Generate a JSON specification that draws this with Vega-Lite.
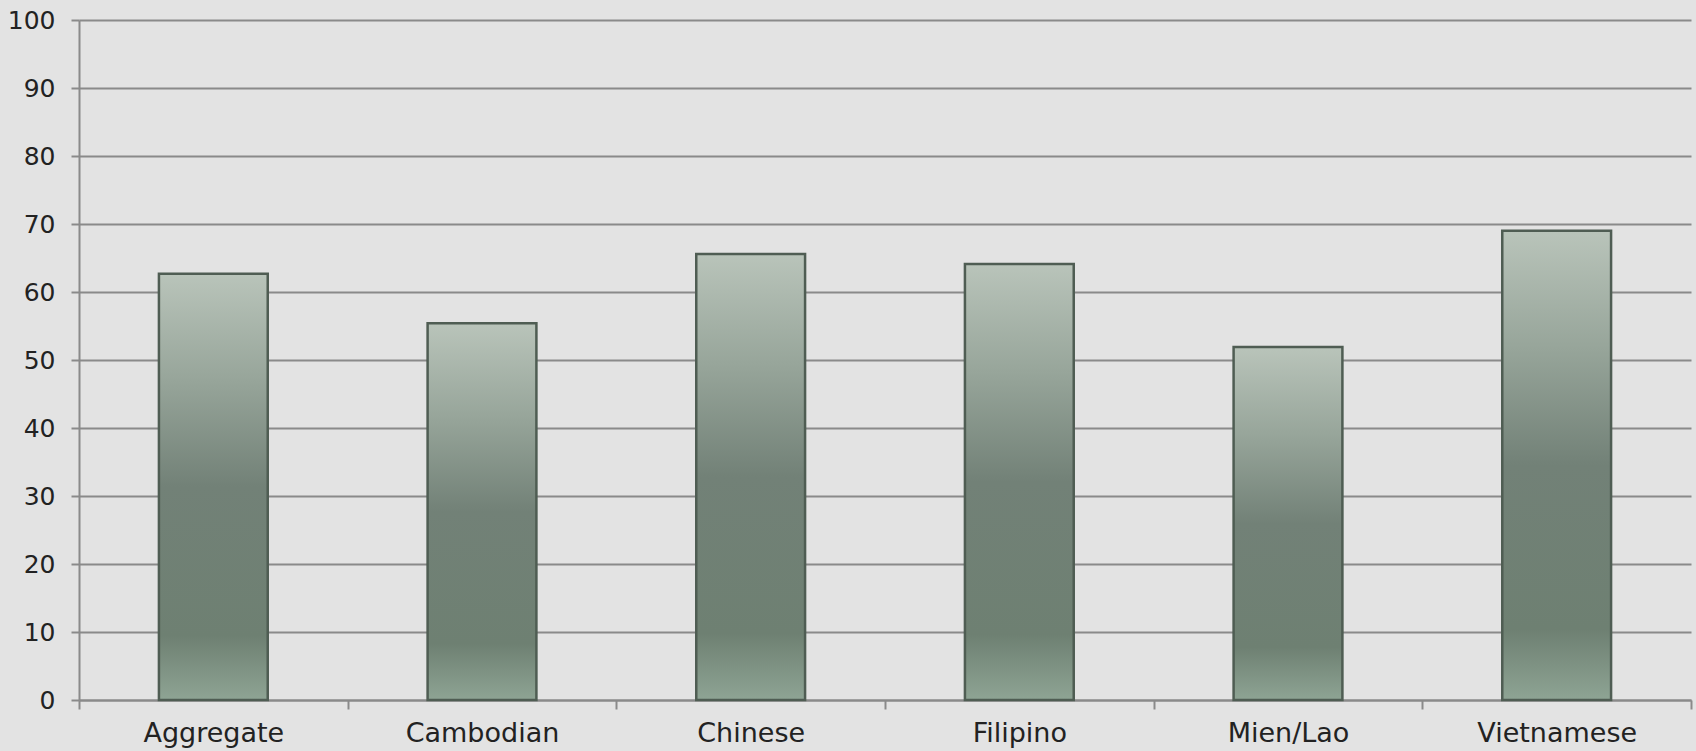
{
  "$schema": "https://vega.github.io/schema/vega-lite/v6.json",
  "autosize": {"type": "none"},
  "width": 1612,
  "height": 680,
  "padding": {"left": 79, "top": 20, "right": 5, "bottom": 51},
  "background": "#e3e3e3",
  "config": {
    "view": {"stroke": null},
    "font": "DejaVu Sans"
  },
  "data": {
    "values": [
      {"group": "Aggregate", "value": 62.7},
      {"group": "Cambodian", "value": 55.4},
      {"group": "Chinese", "value": 65.6},
      {"group": "Filipino", "value": 64.1},
      {"group": "Mien/Lao", "value": 51.9},
      {"group": "Vietnamese", "value": 69.0}
    ]
  },
  "mark": {
    "type": "bar",
    "width": {"band": 0.405},
    "stroke": "#4f5d53",
    "strokeWidth": 2.5,
    "color": {
      "gradient": "linear",
      "x1": 0, "y1": 0, "x2": 0, "y2": 1,
      "stops": [
        {"offset": 0, "color": "#b9c4ba"},
        {"offset": 0.25, "color": "#97a59a"},
        {"offset": 0.5, "color": "#728177"},
        {"offset": 0.85, "color": "#6e8072"},
        {"offset": 1, "color": "#8ea494"}
      ]
    }
  },
  "encoding": {
    "x": {
      "field": "group",
      "type": "nominal",
      "sort": null,
      "scale": {"paddingInner": 0, "paddingOuter": 0},
      "axis": {
        "title": null,
        "labelAngle": 0,
        "labelFontSize": 27,
        "labelColor": "#222222",
        "labelPadding": 11,
        "tickBand": "extent",
        "tickSize": 9,
        "tickColor": "#8a8a8a",
        "tickWidth": 2,
        "domainColor": "#8a8a8a",
        "domainWidth": 2,
        "grid": false
      }
    },
    "y": {
      "field": "value",
      "type": "quantitative",
      "scale": {"domain": [0, 100]},
      "axis": {
        "title": null,
        "values": [0, 10, 20, 30, 40, 50, 60, 70, 80, 90, 100],
        "labelFontSize": 25,
        "labelColor": "#222222",
        "labelPadding": 16,
        "tickSize": 8,
        "tickColor": "#8a8a8a",
        "tickWidth": 2,
        "domainColor": "#8a8a8a",
        "domainWidth": 2,
        "grid": true,
        "gridColor": "#8a8a8a",
        "gridWidth": 2
      }
    }
  }
}
